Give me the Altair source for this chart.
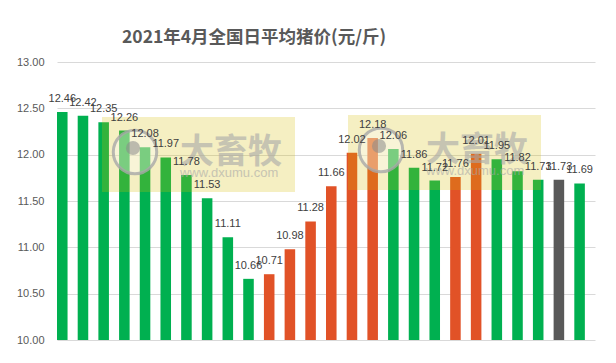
import altair as alt
import pandas as pd

# ---- data ----
days = [f"4月{d}日" for d in range(1, 27)]
prices = [12.46, 12.42, 12.35, 12.26, 12.08, 11.97, 11.78, 11.53, 11.11, 10.66,
          10.71, 10.98, 11.28, 11.66, 12.02, 12.18, 12.06, 11.86, 11.72, 11.76,
          12.01, 11.95, 11.82, 11.73, 11.73, 11.69]
trend = ["跌"] * 10 + ["涨"] * 6 + ["跌"] * 3 + ["涨"] * 2 + ["跌"] * 3 + ["平", "跌"]
y_ticks = [10.0, 10.5, 11.0, 11.5, 12.0, 12.5, 13.0]
y_base = 10.0
title_text = "2021年4月全国日平均猪价(元/斤)"
wm_brand = "大畜牧"
wm_url = "www.dxumu.com"

df = pd.DataFrame({"day": days, "price": prices, "trend": trend})

# ---- layout constants ----
W, H = 538, 278
wm_origins = [(45, 55), (291, 53)]  # watermark boxes (plot pixel coords)

x_enc = alt.X("day:N", sort=days, axis=None,
              scale=alt.Scale(paddingInner=0.49, paddingOuter=0.245, align=0))
y_enc = alt.Y("price:Q",
              scale=alt.Scale(domain=[10, 13], zero=False, nice=False),
              axis=alt.Axis(values=y_ticks, format=".2f", title=None, domain=False,
                            ticks=False, labelPadding=13, labelFontSize=11,
                            labelColor="#595959", labelFont="Liberation Sans",
                            gridColor="#D9D9D9", gridWidth=1))

bars = alt.Chart(df).mark_bar().encode(
    x=x_enc, y=y_enc, y2=alt.datum(y_base),
    color=alt.Color("trend:N", legend=None,
                    scale=alt.Scale(domain=["跌", "涨", "平"],
                                    range=["#00B050", "#E15227", "#595959"])),
)

labels = alt.Chart(df).mark_text(
    dy=-10, baseline="alphabetic", fontSize=11, color="#404040", font="Liberation Sans"
).encode(x=x_enc, y=alt.Y("price:Q"), text=alt.Text("price:Q", format=".2f"))

one = pd.DataFrame({"k": [0]})

title = alt.Chart(one).mark_text(
    text=title_text, fontSize=17.5, fontWeight="bold", font="Noto Sans CJK SC",
    color="#595959", align="left", baseline="alphabetic").encode(
    x=alt.value(65), y=alt.value(-19))

wm_layers = []
for ox, oy in wm_origins:
    wm_layers.append(alt.Chart(one).mark_rect(color="#D5BB00", opacity=0.24).encode(
        x=alt.value(ox), x2=alt.value(ox + 193), y=alt.value(oy), y2=alt.value(oy + 75)))
    wm_layers.append(alt.Chart(one).mark_point(
        shape="circle", filled=False, fill="#FFFFFF", fillOpacity=0.35,
        stroke="#A8A8A8", strokeWidth=3, strokeOpacity=0.8, size=1886).encode(
        x=alt.value(ox + 33), y=alt.value(oy + 35)))
    wm_layers.append(alt.Chart(one).mark_point(
        shape="circle", filled=True, color="#8A8A8A", opacity=0.55, size=200).encode(
        x=alt.value(ox + 31), y=alt.value(oy + 31)))
    wm_layers.append(alt.Chart(one).mark_text(
        text=wm_brand, fontSize=34, fontWeight="bold", font="Noto Sans CJK SC",
        color="#A8A8A8", opacity=0.6, align="left", baseline="alphabetic").encode(
        x=alt.value(ox + 78), y=alt.value(oy + 46)))
    wm_layers.append(alt.Chart(one).mark_text(
        text=wm_url, fontSize=13, font="Liberation Sans",
        color="#A8A8A8", opacity=0.6, align="left", baseline="alphabetic").encode(
        x=alt.value(ox + 78), y=alt.value(oy + 60)))

chart = alt.layer(bars, *wm_layers, labels, title).properties(
    width=W, height=H,
    autosize=alt.AutoSizeParams(type="none"),
    padding={"left": 49, "top": 54, "right": 13, "bottom": 15},
).configure_view(stroke=None)

chart.save("out.html", embed_options={"renderer": "svg", "actions": False})
